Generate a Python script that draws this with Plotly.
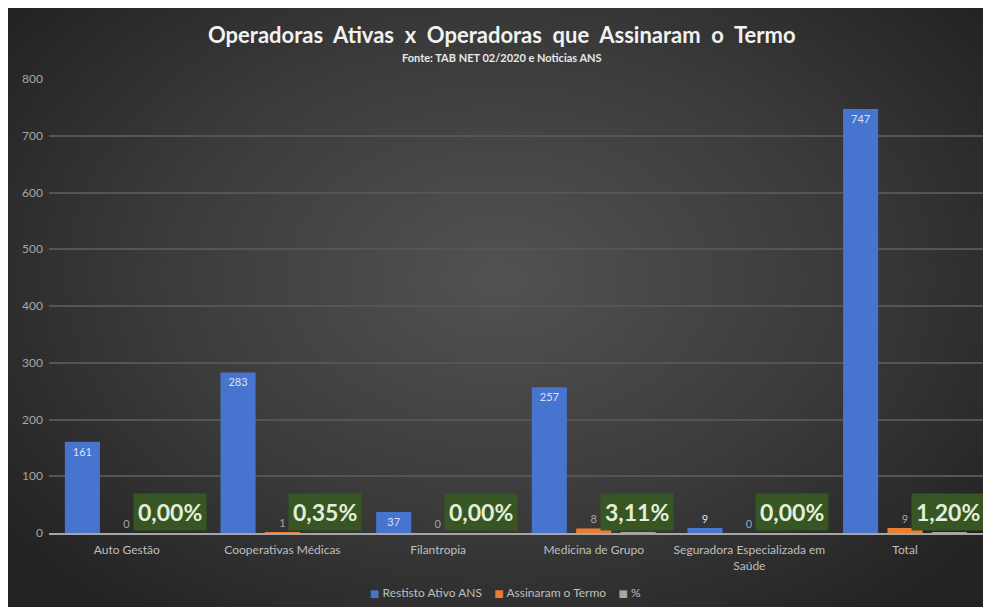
import base64
import plotly.graph_objects as go

categories = ["Auto Gestão", "Cooperativas Médicas", "Filantropia", "Medicina de Grupo",
              "Seguradora Especializada em<br>Saúde", "Total"]
ativos = [161, 283, 37, 257, 9, 747]
assinaram = [0, 1, 0, 8, 0, 9]
pct = [0.0, 0.0035, 0.0, 0.0311, 0.0, 0.0120]
pct_labels = ["0,00%", "0,35%", "0,00%", "3,11%", "0,00%", "1,20%"]
y_ticks = [0, 100, 200, 300, 400, 500, 600, 700, 800]
series_names = ["Restisto Ativo ANS", "Assinaram o Termo", "%"]
series_colors = ["#4674cf", "#ED7D31", "#A5A5A5"]

W, H = 991, 607
# page body has an 8px margin, so figure coords = reference coords - 8
L, R, T, B = 41, 14, 71, 82
PW, PH = W - L - R, H - T - B

vw, vh = W - 8, H - 8  # visible part of the figure
svg = f'''<svg xmlns="http://www.w3.org/2000/svg" width="{W}" height="{H}" viewBox="0 0 {W} {H}" preserveAspectRatio="none">
<defs><radialGradient id="g" gradientUnits="userSpaceOnUse" cx="{vw/2}" cy="{vh*0.45}" r="{vw*0.62}"
 gradientTransform="translate({vw/2} {vh*0.45}) scale(1 {vh/vw*1.15}) translate({-vw/2} {-vh*0.45})">
<stop offset="0" stop-color="#525252"/>
<stop offset="0.55" stop-color="#3b3b3b"/>
<stop offset="1" stop-color="#232323"/>
</radialGradient></defs>
<rect x="0" y="0" width="{W}" height="{H}" fill="url(#g)"/>
</svg>'''
src = "data:image/svg+xml;base64," + base64.b64encode(svg.encode()).decode()

font = "Lato"

fig = go.Figure()
fig.add_trace(go.Bar(
    name=series_names[0], x=categories, y=ativos,
    marker=dict(color=series_colors[0], line=dict(width=0)),
    text=[str(v) for v in ativos],
    textposition=["inside" if v > 20 else "outside" for v in ativos],
    insidetextanchor="end",
    textfont=dict(size=11, color="#dbe3f3", family=font),
    cliponaxis=False,
))
fig.add_trace(go.Bar(
    name=series_names[1], x=categories, y=assinaram,
    marker=dict(color=series_colors[1], line=dict(width=0)),
    text=[str(v) for v in assinaram], textposition="outside",
    textfont=dict(size=11, color="#a6a6a6", family=font),
    cliponaxis=False,
))
fig.add_trace(go.Bar(
    name=series_names[2], x=categories, y=pct,
    marker=dict(color=series_colors[2], line=dict(width=0)),
))

for c, lab in zip(categories, pct_labels):
    fig.add_annotation(
        x=c, y=0, xref="x", yref="y", text=f"<b>{lab}</b>", showarrow=False,
        xshift=43, yshift=2, yanchor="bottom", xanchor="center",
        font=dict(size=23, color="#E2EFDA", family=font),
        bgcolor="#375623", borderpad=4,
    )

fig.add_annotation(
    x=0.5, y=(533 - 34) / PH, xref="paper", yref="paper", xanchor="center", yanchor="middle",
    text="<b>Operadoras  Ativas  x  Operadoras  que  Assinaram  o  Termo</b>", showarrow=False,
    font=dict(size=22, color="#f2f2f2", family=font), xshift=-15,
)
fig.add_annotation(
    x=0.5, y=(533 - 57) / PH, xref="paper", yref="paper", xanchor="center", yanchor="middle",
    text="<b>Fonte: TAB NET 02/2020 e Noticias ANS</b>", showarrow=False,
    font=dict(size=11, color="#e8e8e8", family=font), xshift=-15,
)

# compact legend (Excel style: small square right next to the label)
legend_parts = [
    f"<span style='color:{col};font-size:10px;font-family:DejaVu Sans'>■</span> {name}"
    for name, col in zip(series_names, series_colors)
]
fig.add_annotation(
    x=0.5, y=(533 - 592) / PH, xref="paper", yref="paper", xanchor="center", yanchor="middle",
    text="    ".join(legend_parts), showarrow=False, xshift=-12,
    font=dict(size=12, color="#bfbfbf", family=font),
)

fig.add_layout_image(
    source=src, xref="paper", yref="paper",
    x=-L / PW, y=1 + T / PH, sizex=W / PW, sizey=H / PH,
    xanchor="left", yanchor="top", sizing="stretch", layer="below",
)

fig.update_layout(
    width=W, height=H,
    margin=dict(l=L, r=R, t=T, b=B, pad=0, autoexpand=False),
    paper_bgcolor="#2a2a2a", plot_bgcolor="rgba(0,0,0,0)",
    barmode="group", bargap=0.144, bargroupgap=0.21,
    font=dict(family=font, color="#bfbfbf", size=11),
    showlegend=False,
    xaxis=dict(showgrid=False, showline=True, linecolor="#a6a6a6", linewidth=1.5,
               tickfont=dict(size=12, color="#bfbfbf", family=font), ticks="", zeroline=False,
               ticklabelstandoff=5, automargin=False),
    yaxis=dict(range=[0, 800], tickvals=y_ticks, showgrid=True, gridcolor="#555555", gridwidth=1.5,
               zeroline=False, showline=False, ticks="", automargin=False,
               tickfont=dict(size=12, color="#a6a6a6", family=font), ticklabelstandoff=5),
)

fig.write_html("out.html")
